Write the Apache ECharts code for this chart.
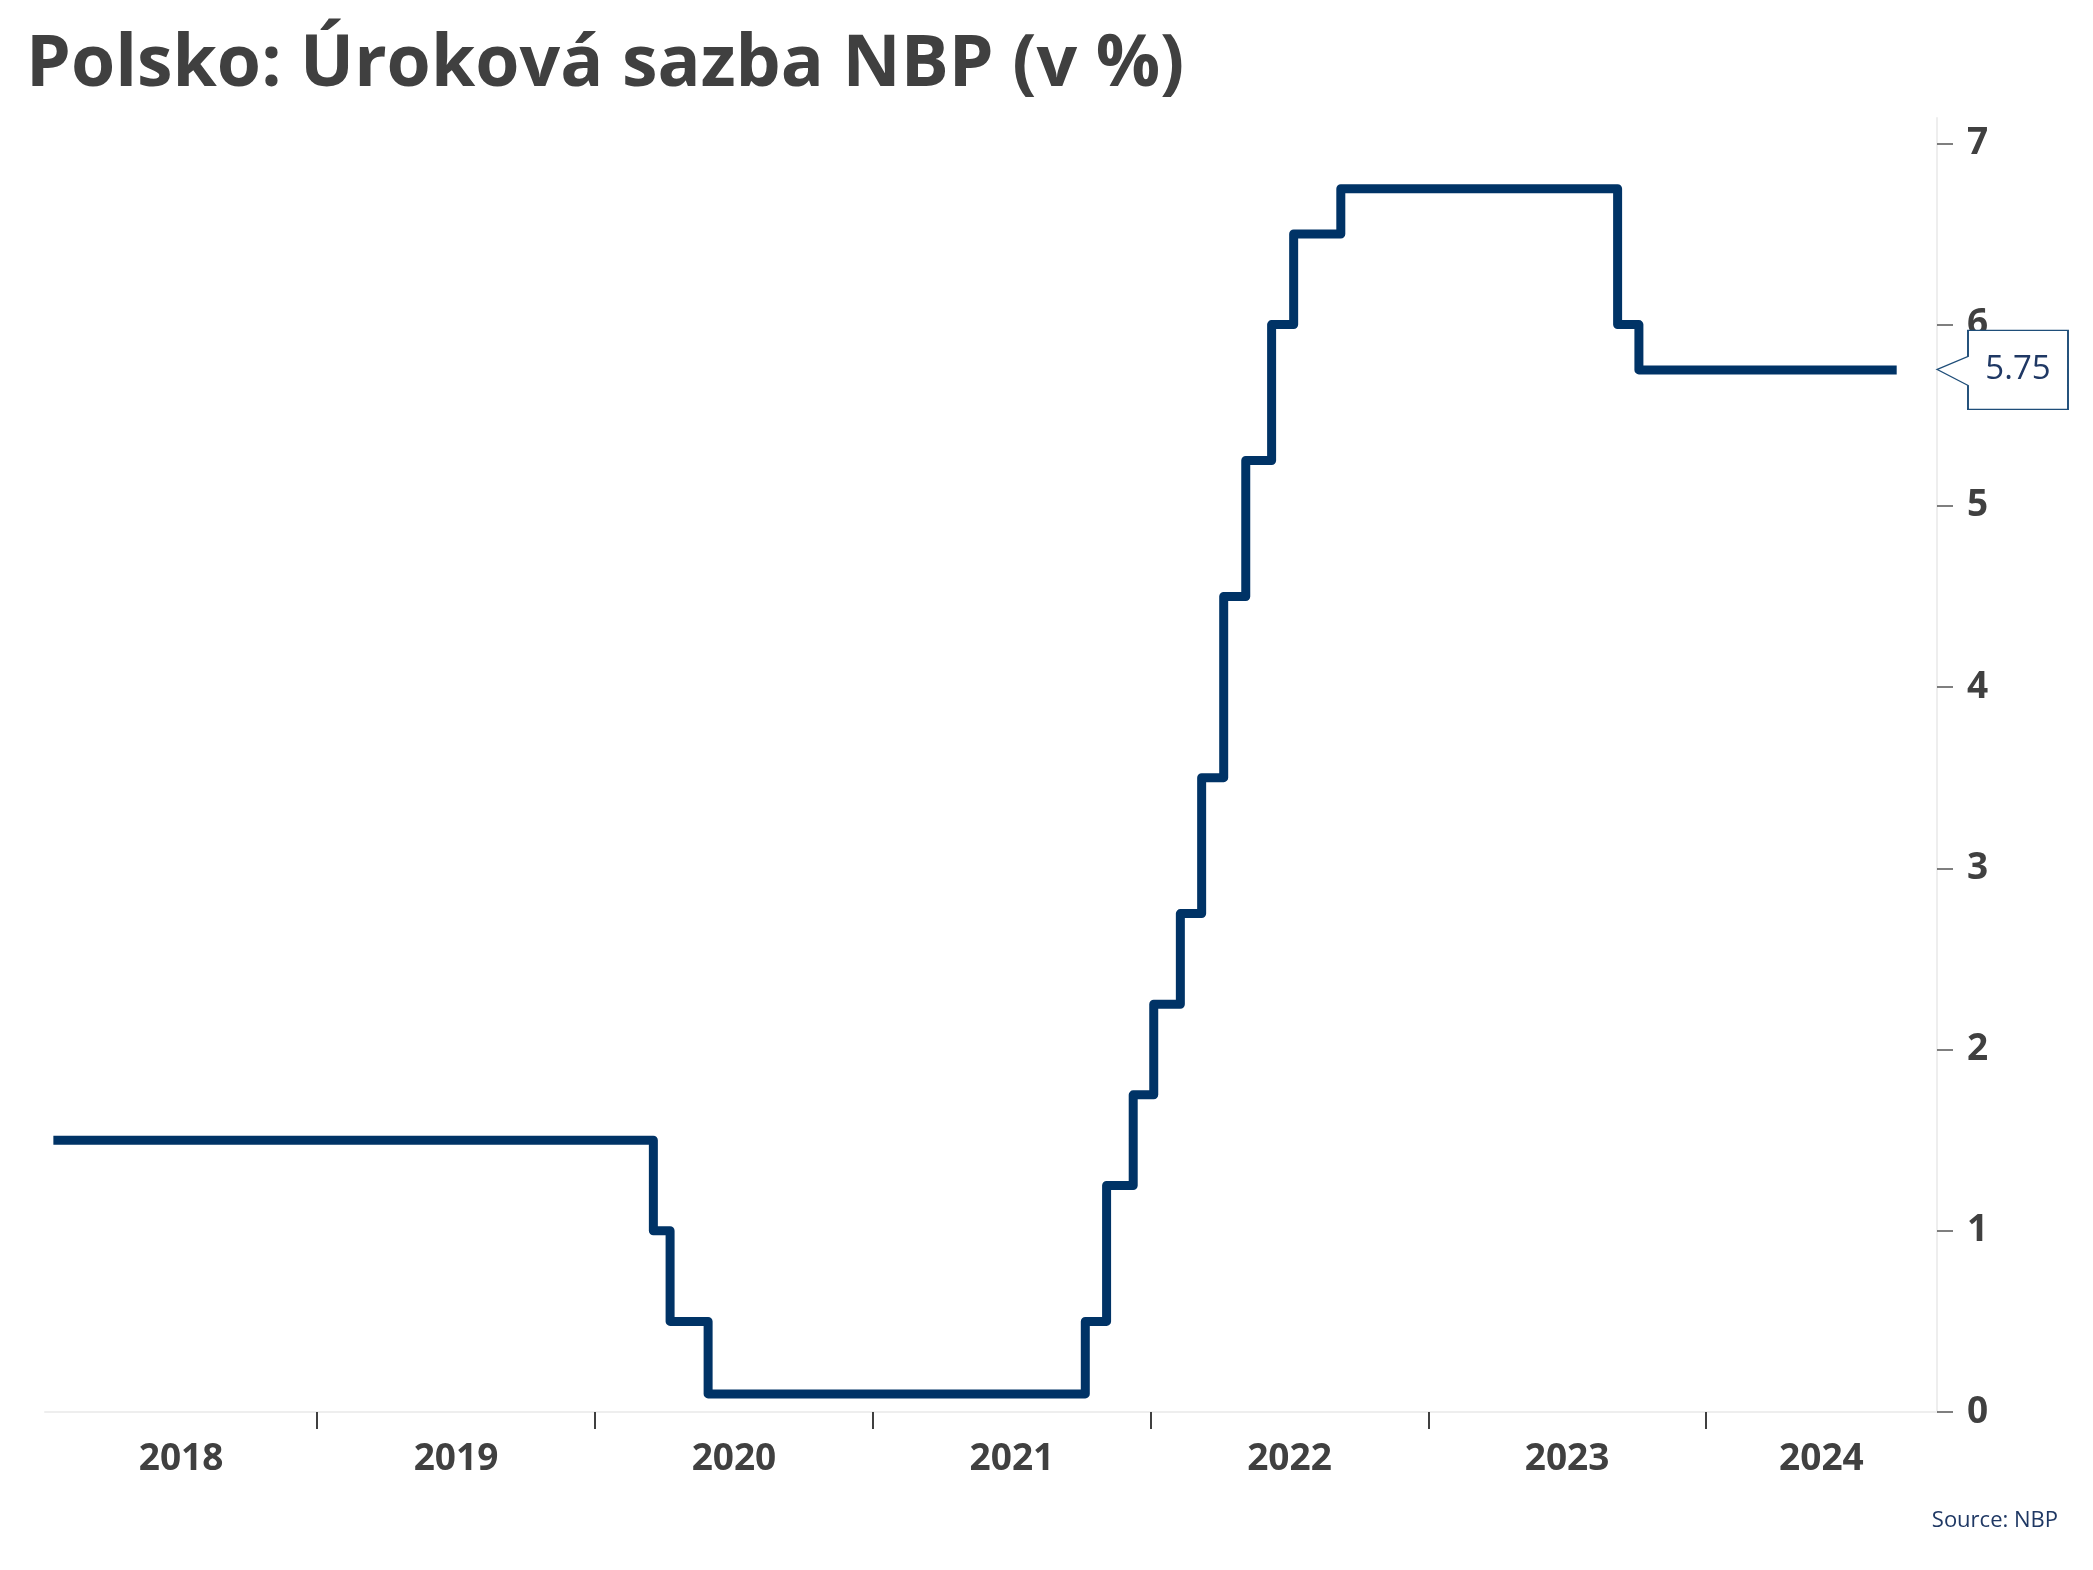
<!DOCTYPE html>
<html>
<head>
<meta charset="utf-8">
<script src="https://cdn.jsdelivr.net/npm/echarts@6/dist/echarts.min.js"></script>
<style>
html,body{margin:0;padding:0;background:#fff;}
#chart{width:2093px;height:1570px;}
</style>
</head>
<body>
<div id="chart"></div>
<script>
// ---- Data (NBP reference rate, % ; dates of rate changes) ----
const changeDates = ['2018-01-19','2020-03-18','2020-04-09','2020-05-29','2021-10-07','2021-11-04','2021-12-09',
  '2022-01-05','2022-02-09','2022-03-09','2022-04-07','2022-05-06','2022-06-09','2022-07-08','2022-09-08',
  '2023-09-07','2023-10-05','2024-09-08'];
const rates = [1.5, 1.0, 0.5, 0.1, 0.5, 1.25, 1.75, 2.25, 2.75, 3.5, 4.5, 5.25, 6.0, 6.5, 6.75, 6.0, 5.75, 5.75];
const years = [2018, 2019, 2020, 2021, 2022, 2023, 2024];
const yTicks = [0, 1, 2, 3, 4, 5, 6, 7];
const titleText = 'Polsko: Úroková sazba NBP (v %)';
const sourceText = 'Source: NBP';
const axisStartDate = [2018, 0, 8];
const axisEndDate = [2024, 9, 31];

function ts(y, m, d) { return new Date(y, m, d).getTime(); }
function parseDay(s) { const p = s.split('-').map(Number); return ts(p[0], p[1] - 1, p[2]); }

const xMin = ts.apply(null, axisStartDate);
const xMax = ts.apply(null, axisEndDate);
const seriesData = changeDates.map((d, i) => [parseDay(d), rates[i]]);
const yearStarts = years.map(y => ts(y, 0, 1)).filter(v => v > xMin && v < xMax);
const yearLabelPos = years.map(y => {
  const a = Math.max(ts(y, 0, 1), xMin);
  const b = Math.min(ts(y + 1, 0, 1), xMax);
  return (a + b) / 2;
});
const lastRate = rates[rates.length - 1];

const TEXT = '#404040';
const NAVY = '#003366';

const chart = echarts.init(document.getElementById('chart'), null, {renderer: 'canvas'});
chart.setOption({
  animation: false,
  backgroundColor: '#ffffff',
  title: [
    {
      text: titleText, left: 21, top: 25,
      textStyle: {fontFamily: 'Open Sans', fontWeight: 'bold', fontSize: 71.5, color: TEXT}
    },
    {
      text: sourceText, right: 30, bottom: 33,
      textStyle: {fontFamily: 'Open Sans', fontWeight: 'normal', fontSize: 22, color: '#1f3864'}
    }
  ],
  grid: {left: 45, right: 156, top: 118, bottom: 158, containLabel: false},
  xAxis: {
    type: 'value',
    min: xMin, max: xMax,
    axisLine: {show: true, lineStyle: {color: '#eeeeee', width: 2}},
    axisTick: {show: true, customValues: yearStarts, length: 17, lineStyle: {color: TEXT, width: 2}},
    axisLabel: {
      customValues: yearLabelPos,
      formatter: v => String(new Date(v).getFullYear()),
      fontFamily: 'Open Sans', fontWeight: 'bold', fontSize: 37, color: TEXT, margin: 29,
      hideOverlap: false
    },
    splitLine: {show: false}
  },
  yAxis: {
    type: 'value', position: 'right',
    min: 0, max: 7.14, interval: 1,
    axisLine: {show: true, lineStyle: {color: '#eeeeee', width: 2}},
    axisTick: {show: true, customValues: yTicks, length: 16, lineStyle: {color: '#555555', width: 1.5}},
    axisLabel: {
      customValues: yTicks,
      fontFamily: 'Open Sans', fontWeight: 'bold', fontSize: 37, color: TEXT, margin: 30
    },
    splitLine: {show: false}
  },
  series: [{
    type: 'line',
    step: 'end',
    data: seriesData,
    showSymbol: false,
    lineStyle: {color: NAVY, width: 9, cap: 'butt', join: 'round'},
    markPoint: {
      silent: true,
      symbol: 'path://M0,39 L31,26 L31,0 L131,0 L131,79 L31,79 L31,55 Z',
      symbolSize: [131, 79],
      symbolKeepAspect: false,
      symbolOffset: [65.5, 0],
      itemStyle: {color: '#ffffff', borderColor: '#1f4e79', borderWidth: 1.5},
      label: {
        show: true, position: 'inside', offset: [15.5, 0],
        formatter: p => Number(p.value).toFixed(2),
        fontFamily: 'Open Sans', fontSize: 33, color: '#1f3864'
      },
      data: [{coord: [xMax, lastRate], value: lastRate}]
    }
  }]
});
</script>
</body>
</html>
